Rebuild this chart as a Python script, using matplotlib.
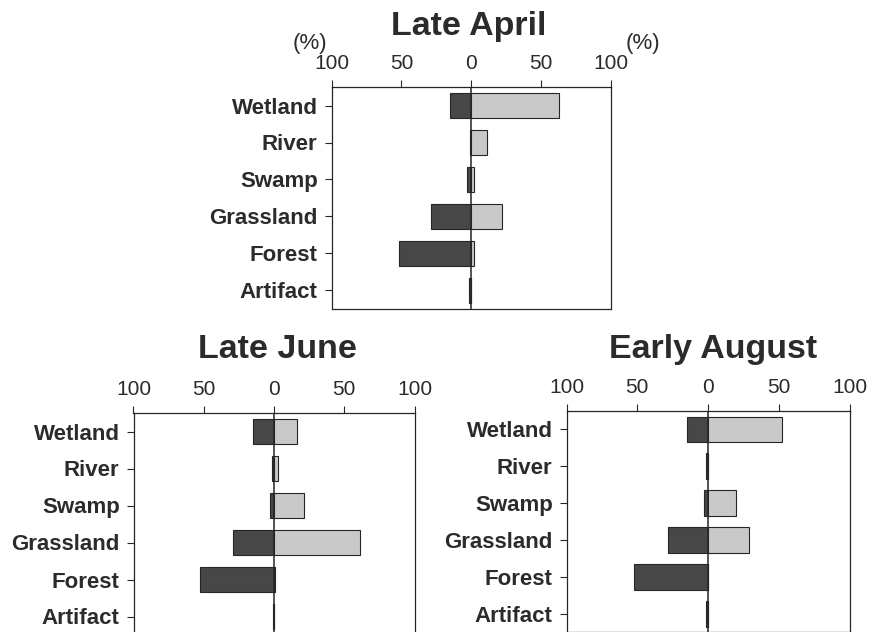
import numpy as np
from matplotlib import pyplot as plt

plt.rcParams['font.family'] = ['Liberation Sans', 'DejaVu Sans']

categories = ["Wetland", "River", "Swamp", "Grassland", "Forest", "Artifact"]

# left (dark) and right (light) percentages per panel
april_dark = [15, 1, 3, 29, 52, 1.5]
april_light = [63, 11.5, 2, 22, 2, 0]
june_dark = [15, 1.2, 2.6, 29, 53, 1]
june_light = [16.5, 3, 21, 61, 0.5, 0]
aug_dark = [14.5, 1.2, 2.5, 28.5, 52, 1.2]
aug_light = [52, 0, 20, 29, 0, 0]

tick_vals = [-100, -50, 0, 50, 100]
tick_labels = ["100", "50", "0", "50", "100"]

TXT = "#2b2b2b"
DARK = "#474747"
LIGHT = "#c9c9c9"
EDGE = "#262626"

W, H = 871, 632
fig = plt.figure(figsize=(W / 100, H / 100), dpi=100)


def panel(rect_px, title, title_xy, dark, light):
    x0, y_top, x1, y_bot = rect_px
    ax = fig.add_axes([x0 / W, 1 - y_bot / H, (x1 - x0) / W, (y_bot - y_top) / H])
    y = np.arange(len(categories))
    ax.barh(y, -np.array(dark), height=0.7, color=DARK, edgecolor=EDGE, linewidth=0.8)
    ax.barh(y, light, height=0.7, color=LIGHT, edgecolor=EDGE, linewidth=0.8)
    ax.axvline(0, color=EDGE, lw=1.1)
    ax.set_xlim(-100, 100)
    ax.set_ylim(len(categories) - 0.5, -0.5)
    ax.set_yticks(y)
    ax.set_yticklabels(categories, fontsize=16, fontweight="bold", color=TXT)
    ax.set_xticks(tick_vals)
    ax.set_xticklabels(tick_labels, fontsize=15, color=TXT)
    ax.xaxis.tick_top()
    ax.tick_params(axis="x", direction="out", length=5, width=0.8, pad=5, colors=EDGE, labelcolor=TXT)
    ax.tick_params(axis="y", direction="out", length=5, width=0.8, pad=5, colors=EDGE, labelcolor=TXT)
    for s in ax.spines.values():
        s.set_color(EDGE)
        s.set_linewidth(0.9)
    fig.text(title_xy[0] / W, 1 - title_xy[1] / H, title, ha="center", va="center",
             fontsize=24.5, fontweight="bold", color=TXT)
    return ax


panel((331.5, 87, 611, 309), "Late April", (469, 26), april_dark, april_light)
panel((133.5, 413, 414.5, 635), "Late June", (277, 350), june_dark, june_light)
panel((566.5, 411, 849.5, 632.5), "Early August", (713, 350), aug_dark, aug_light)

fig.text(310 / W, 1 - 44 / H, "(%)", ha="center", va="center", fontsize=16, color=TXT)
fig.text(643 / W, 1 - 44 / H, "(%)", ha="center", va="center", fontsize=16, color=TXT)

fig.savefig("out.png", dpi=100)
